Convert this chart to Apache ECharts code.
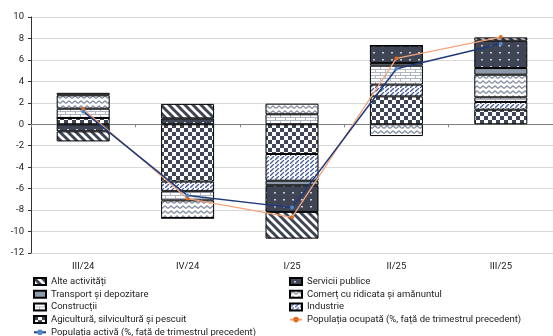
<!DOCTYPE html>
<html><head><meta charset="utf-8">
<script src="https://cdn.jsdelivr.net/npm/echarts@6/dist/echarts.min.js"></script>
<style>html,body{margin:0;padding:0;background:#fff}#c{width:553px;height:336px}</style>
</head><body><div id="c"></div>
<script>
// ---- data ----
const categories = ['III/24', 'IV/24', 'I/25', 'II/25', 'III/25'];
const agricultura = [0.59, -5.34, -2.77, 2.60, 1.36];
const industrie   = [0.00, -0.90, -2.49, 1.10, 0.72];
const constructii = [0.86, -0.85, 0.93, 1.77, 0.43];
const comert      = [1.25, -1.65, 0.99, -1.10, 2.11];
const transport   = [0.23, 0.00, -0.43, 0.25, 0.62];
const servicii    = [-0.66, 0.55, -2.48, 1.62, 2.55];
const alte        = [-0.94, 1.35, -2.49, 0.00, 0.31];
const popOcupata  = [1.43, -6.93, -8.67, 6.14, 8.13];
const popActiva   = [1.20, -6.65, -7.77, 5.18, 7.51];
const yTicks = {min: -12, max: 10, interval: 2};

// ---- patterns ----
const DARK = '#3f4555';
function tile(w, h, draw) {
  const c = document.createElement('canvas');
  c.width = w; c.height = h;
  const ctx = c.getContext('2d');
  draw(ctx, w, h);
  return {image: c, repeat: 'repeat'};
}
const pAlte = tile(8, 8, (ctx, w, h) => {
  ctx.fillStyle = '#fff'; ctx.fillRect(0, 0, w, h);
  ctx.strokeStyle = DARK; ctx.lineWidth = 3;
  for (const o of [-8, 0, 8]) { ctx.beginPath(); ctx.moveTo(o - 1, -1); ctx.lineTo(o + 9, 9); ctx.stroke(); }
});
const pServicii = tile(9, 7, (ctx, w, h) => {
  ctx.fillStyle = DARK; ctx.fillRect(0, 0, w, h);
  ctx.fillStyle = '#c9cdd6'; ctx.fillRect(4, 3, 2, 1.5);
});
const pTransport = '#8d98a8';
const pComert = tile(6, 5, (ctx, w, h) => {
  ctx.fillStyle = '#fff'; ctx.fillRect(0, 0, w, h);
  ctx.strokeStyle = '#8e97a6'; ctx.lineWidth = 1.4;
  ctx.beginPath(); ctx.moveTo(0, 3.5); ctx.lineTo(3, 1); ctx.lineTo(6, 3.5); ctx.stroke();
});
const pConstr = tile(10, 6, (ctx, w, h) => {
  ctx.fillStyle = '#fff'; ctx.fillRect(0, 0, w, h);
  ctx.fillStyle = '#aeb6c4';
  ctx.fillRect(0, 0, 10, 1); ctx.fillRect(0, 3, 10, 1);
  ctx.fillRect(0, 0, 1, 3); ctx.fillRect(5, 3, 1, 3);
});
const pIndustrie = tile(5, 4, (ctx, w, h) => {
  ctx.fillStyle = '#fff'; ctx.fillRect(0, 0, w, h);
  ctx.strokeStyle = '#4a5f9c'; ctx.lineWidth = 1.3;
  ctx.beginPath(); ctx.moveTo(0, 4); ctx.lineTo(4, 0); ctx.stroke();
});
const pAgri = tile(8, 8, (ctx, w, h) => {
  ctx.fillStyle = '#fff'; ctx.fillRect(0, 0, w, h);
  ctx.fillStyle = DARK; ctx.fillRect(0, 0, 4, 4); ctx.fillRect(4, 4, 4, 4);
});

function barSeries(name, data, color) {
  return {
    name, type: 'bar', stack: 'tot', data, barWidth: 53, xAxisIndex: 0,
    itemStyle: {color, borderColor: '#000', borderWidth: 1},
    emphasis: {disabled: true}
  };
}
function lineSeries(name, data, lineColor, markColor, width) {
  return {
    name, type: 'line', data, xAxisIndex: 0, z: 5,
    symbol: 'circle', symbolSize: 4,
    lineStyle: {color: lineColor, width},
    itemStyle: {color: markColor, borderWidth: 0},
    emphasis: {disabled: true}
  };
}

const FONT = 'Roboto';
const legendCommon = {
  orient: 'vertical', itemWidth: 12, itemHeight: 7, itemGap: 0.7, height: 80,
  textStyle: {fontFamily: FONT, fontSize: 9.5, color: '#222', lineHeight: 12},
  top: 275.5, padding: 0
};
const L = n => ({name: n, icon: 'rect'});
const N = n => ({name: n});

const chart = echarts.init(document.getElementById('c'), null, {renderer: 'canvas'});
chart.setOption({
  animation: false,
  grid: {left: 31, top: 17, width: 531, height: 236},
  legend: [
    Object.assign({left: 33, data: [L('Alte activități'), L('Transport și depozitare'), L('Construcții'), L('Agicultură, silvicultură și pescuit'), N('Populația activă (%, față de trimestrul precedent)')]}, legendCommon),
    Object.assign({left: 289, data: [L('Servicii publice'), L('Comerț cu ridicata și amănuntul'), L('Industrie'), N('Populația ocupată (%, față de trimestrul precedent)')]}, legendCommon)
  ],
  xAxis: [
    {type: 'category', data: categories, position: 'bottom',
     axisLine: {onZero: true, lineStyle: {color: '#7f7f7f', width: 1.2}},
     axisTick: {show: true, length: 3, lineStyle: {color: '#7f7f7f'}},
     axisLabel: {show: false}, splitLine: {show: false}},
    {type: 'category', data: categories, position: 'bottom',
     axisLine: {show: false, onZero: false}, axisTick: {show: false},
     axisLabel: {show: true, margin: 9, fontFamily: FONT, fontSize: 9.5, color: '#222'},
     splitLine: {show: false}}
  ],
  yAxis: {
    type: 'value', min: yTicks.min, max: yTicks.max, interval: yTicks.interval,
    axisLine: {show: true, lineStyle: {color: '#333', width: 1}},
    axisTick: {show: true, length: 3, lineStyle: {color: '#333'}},
    axisLabel: {margin: 7, fontFamily: FONT, fontSize: 9.5, color: '#222'},
    splitLine: {show: true, lineStyle: {color: '#d9d9d9', width: 1}}
  },
  series: [
    barSeries('Agicultură, silvicultură și pescuit', agricultura, pAgri),
    barSeries('Industrie', industrie, pIndustrie),
    barSeries('Construcții', constructii, pConstr),
    barSeries('Comerț cu ridicata și amănuntul', comert, pComert),
    barSeries('Transport și depozitare', transport, pTransport),
    barSeries('Servicii publice', servicii, pServicii),
    barSeries('Alte activități', alte, pAlte),
    lineSeries('Populația ocupată (%, față de trimestrul precedent)', popOcupata, '#f2a47c', '#de6d22', 1.3),
    lineSeries('Populația activă (%, față de trimestrul precedent)', popActiva, '#1f3a78', '#4f86c6', 1.5)
  ]
});
</script></body></html>
